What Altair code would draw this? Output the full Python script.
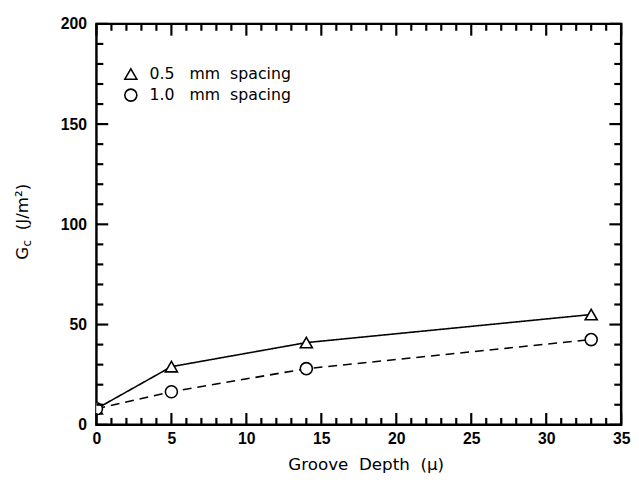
import altair as alt
import pandas as pd

# ---- data ----
depth = [0, 5, 14, 33]
gc_05 = [8, 29, 41, 55]
gc_10 = [8, 16.5, 28, 42.5]
series_labels = ["0.5\u00a0\u00a0\u00a0mm\u00a0\u00a0spacing", "1.0\u00a0\u00a0\u00a0mm\u00a0\u00a0spacing"]
series_shapes = ["triangle-up", "circle"]

x_major = [0, 5, 10, 15, 20, 25, 30, 35]
x_minor = list(range(0, 36))
y_major = [0, 50, 100, 150, 200]
y_minor = list(range(0, 201, 10))

W, H = 534, 408
X_MAX, Y_MAX = 35, 200
FONT = "DejaVu Sans"
TICKFONT = "Liberation Sans"

df = pd.DataFrame({
    "depth": depth + depth,
    "gc": gc_05 + gc_10,
    "series": [series_labels[0]] * len(depth) + [series_labels[1]] * len(depth),
})
df["dash"] = df["series"]

xs = alt.Scale(domain=[0, X_MAX], nice=False, zero=False)
ys = alt.Scale(domain=[0, Y_MAX], nice=False)

x_title = "Groove\u00a0\u00a0Depth\u00a0\u00a0(\u03bc)"

x_axis = alt.Axis(values=x_major, title=x_title, grid=False, domain=False, ticks=False,
                  labelFont=TICKFONT, labelFontWeight="bold", labelFontSize=16, labelColor="black",
                  labelPadding=6, titleFont=FONT, titleFontSize=17, titleFontWeight="normal",
                  titleColor="black", titlePadding=11, titleX=W / 2 + 7, labelFlush=False)
y_axis = alt.Axis(values=y_major, title=None, grid=False, domain=False, ticks=False,
                  labelFont=TICKFONT, labelFontWeight="bold", labelFontSize=16, labelColor="black",
                  labelPadding=10, labelFlush=False)

base = alt.Chart(df)

lines = base.mark_line(color="black", strokeWidth=1.6).encode(
    x=alt.X("depth:Q", scale=xs, axis=x_axis),
    y=alt.Y("gc:Q", scale=ys, axis=y_axis),
    strokeDash=alt.StrokeDash("dash:N",
                              scale=alt.Scale(domain=series_labels, range=[[1, 0], [9, 6]]),
                              legend=None),
)

points = base.mark_point(filled=True, fill="white", stroke="black", strokeWidth=1.6,
                         opacity=1, clip=True).encode(
    x=alt.X("depth:Q", scale=xs, axis=x_axis),
    y=alt.Y("gc:Q", scale=ys, axis=y_axis),
    shape=alt.Shape("series:N",
                    scale=alt.Scale(domain=series_labels, range=series_shapes),
                    legend=None),
    size=alt.value(150),
)

# inward frame ticks: lengths in pixels converted to data units
px_x = X_MAX / W
px_y = Y_MAX / H
MINOR_LEN, MAJOR_LEN = 7, 12
TICK_W = 2.2


def xticks(vals, length, top):
    d = pd.DataFrame({"v": vals})
    if top:
        d["a"], d["b"] = Y_MAX, Y_MAX - length * px_y
    else:
        d["a"], d["b"] = 0, length * px_y
    return alt.Chart(d).mark_rule(color="black", strokeWidth=TICK_W).encode(
        x=alt.X("v:Q", scale=xs, axis=x_axis),
        y=alt.Y("a:Q", scale=ys, axis=y_axis), y2="b:Q")


def yticks(vals, length, left):
    d = pd.DataFrame({"v": vals})
    if left:
        d["a"], d["b"] = 0, length * px_x
    else:
        d["a"], d["b"] = X_MAX, X_MAX - length * px_x
    return alt.Chart(d).mark_rule(color="black", strokeWidth=TICK_W).encode(
        y=alt.Y("v:Q", scale=ys, axis=y_axis),
        x=alt.X("a:Q", scale=xs, axis=x_axis), x2="b:Q")


x_minor_only = [v for v in x_minor if v not in x_major]
y_minor_only = [v for v in y_minor if v not in y_major]

tick_layers = [
    xticks(x_minor_only, MINOR_LEN, False), xticks(x_minor_only, MINOR_LEN, True),
    yticks(y_minor_only, MINOR_LEN, True), yticks(y_minor_only, MINOR_LEN, False),
    xticks(x_major, MAJOR_LEN, False), xticks(x_major, MAJOR_LEN, True),
    yticks(y_major, MAJOR_LEN, True), yticks(y_major, MAJOR_LEN, False),
]

# legend drawn as symbol + label (inside the upper-left of the frame)
LEG_X, LEG_Y0, LEG_DY, LEG_GAP = 35, 51, 21.5, 19


def legend_row(i):
    d = pd.DataFrame({"label": [series_labels[i]], "shape": [series_shapes[i]]})
    sym = alt.Chart(d).mark_point(filled=True, fill="white", stroke="black",
                                  strokeWidth=1.6, opacity=1).encode(
        x=alt.value(LEG_X), y=alt.value(LEG_Y0 + i * LEG_DY),
        shape=alt.Shape("shape:N", scale=None), size=alt.value(150))
    lab = alt.Chart(d).mark_text(align="left", baseline="middle", font=FONT, fontSize=16,
                                 color="black").encode(
        text="label:N", x=alt.value(LEG_X + LEG_GAP), y=alt.value(LEG_Y0 + i * LEG_DY))
    return [sym, lab]


legend_layers = legend_row(0) + legend_row(1)

yt_x = -75


def ypiece(txt, size, ypos, dy=0):
    return alt.Chart(pd.DataFrame({"t": [txt]})).mark_text(
        angle=270, align="left", baseline="middle", font=FONT, fontSize=size,
        color="black", dy=dy
    ).encode(text="t:N", x=alt.value(yt_x), y=alt.value(ypos))


g_txt = ypiece("G", 17, 240)
c_txt = ypiece("c", 12, 226.5, dy=4)
rest_txt = ypiece("(J/m\u00b2)", 17, 210)

chart = alt.layer(
    lines, points, *legend_layers, g_txt, c_txt, rest_txt, *tick_layers
).properties(
    width=W, height=H,
    autosize=alt.AutoSizeParams(type="none"),
    padding={"left": 90, "top": 12, "right": 10, "bottom": 50},
    background="white",
).configure_view(
    stroke="black", strokeWidth=2.5
)

chart.save("out.html", embed_options={"renderer": "svg", "actions": False})
